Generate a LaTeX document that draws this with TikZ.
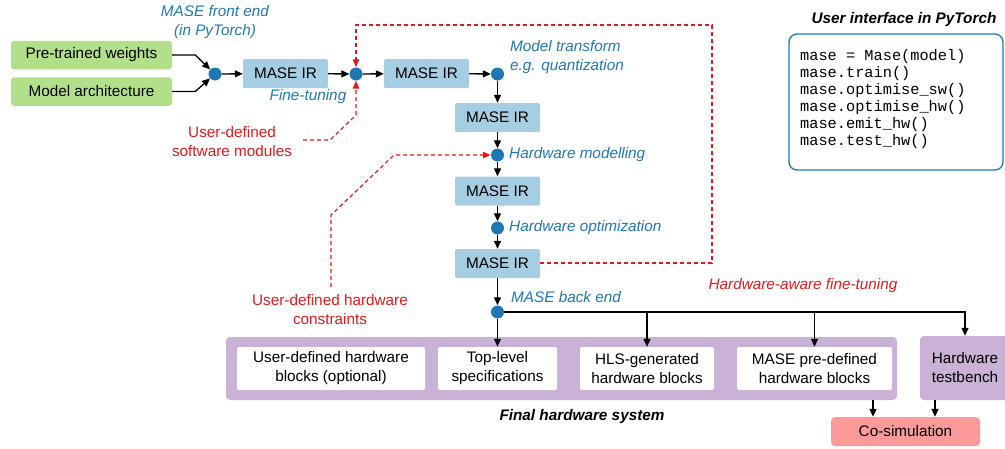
\documentclass[tikz,border=0pt]{standalone}
\usepackage{fontspec}
\setmainfont{Liberation Sans}
\setmonofont{Liberation Mono}
\usetikzlibrary{arrows.meta,calc}
\definecolor{grn}{HTML}{B2DF8A}
\definecolor{irblue}{HTML}{A6CEE3}
\definecolor{dblue}{HTML}{1F78B4}
\definecolor{redd}{HTML}{E31A1C}
\definecolor{purp}{HTML}{CAB2D6}
\definecolor{pinkc}{HTML}{FB9A99}
\tikzset{
  every node/.style={font=\fontsize{15.3}{19}\selectfont, inner sep=0pt},
  gbox/.style={fill=grn, rounded corners=3pt, minimum width=161pt, minimum height=28.5pt},
  irbox/.style={fill=irblue, rounded corners=1.5pt, minimum width=85pt, minimum height=29pt},
  jdot/.style={circle, fill=dblue, minimum size=13pt},
  blbl/.style={text=dblue, font=\fontsize{15.3}{19}\selectfont\itshape},
  rlbl/.style={text=redd, align=center},
  arr/.style={-{Triangle[length=8pt,width=7pt]}, line width=1.3pt},
  rdash/.style={draw=redd, dash pattern=on 4pt off 3pt, line width=1.2pt},
  rarr/.style={rdash, -{Triangle[length=8pt,width=6.5pt]}},
  wbox/.style={fill=white, rounded corners=2pt, minimum height=43pt, align=center},
  codeln/.style={anchor=base west, font=\fontsize{15.3}{17}\selectfont\ttfamily},
}
\begin{document}
\begin{tikzpicture}[x=1pt,y=-1pt]
\useasboundingbox (0,0) rectangle (1005,448);

% input boxes
\node[gbox] (g1) at (91.5,55) {Pre-trained weights};
\node[gbox] (g2) at (91.5,91.5) {Model architecture};

% dots
\node[jdot] (d1) at (215,74) {};
\node[jdot] (d2) at (356,74) {};
\node[jdot] (d3) at (497.5,74) {};
\node[jdot] (d4) at (497.5,155) {};
\node[jdot] (d5) at (497.5,228) {};
\node[jdot] (d6) at (497.5,312) {};

% IR boxes
\node[irbox] (ir1) at (285.5,73.5) {MASE IR};
\node[irbox] (ir2) at (426.5,73.5) {MASE IR};
\node[irbox] (ir3) at (497.5,117.5) {MASE IR};
\node[irbox] (ir4) at (497.5,191) {MASE IR};
\node[irbox] (ir5) at (497.5,263.5) {MASE IR};

% labels
\node[blbl, align=center] (lfe) at (215,22) {MASE front end\\(in PyTorch)};
\node[blbl] (lft) at (308,97) {Fine-tuning};
\node[blbl, align=left, anchor=west] (lmt) at (510,57.5) {Model transform\\e.g. quantization};
\node[blbl, anchor=west] (lhm) at (509,155) {Hardware modelling};
\node[blbl, anchor=west] (lho) at (509,228) {Hardware optimization};
\node[blbl, anchor=west] (lbe) at (511,297) {MASE back end};
\node[rlbl] (lsw) at (232,141.5) {User-defined\\software modules};
\node[rlbl] (lhc) at (330,309.5) {User-defined hardware\\constraints};
\node[text=redd, font=\fontsize{15.3}{19}\selectfont\itshape] (lhaf) at (803,286) {Hardware-aware fine-tuning};

% final hardware system
\node[fill=purp, rounded corners=4pt, minimum width=671pt, minimum height=63pt] (fhs) at (561.5,368.5) {};
\node[wbox, minimum width=188pt] (w1) at (331,368.5) {User-defined hardware\\blocks (optional)};
\node[wbox, minimum width=119pt] (w2) at (497.5,368.5) {Top-level\\specifications};
\node[wbox, minimum width=134pt] (w3) at (647,368.5) {HLS-generated\\hardware blocks};
\node[wbox, minimum width=155pt] (w4) at (814.5,368.5) {MASE pre-defined\\hardware blocks};
\node[fill=purp, rounded corners=4pt, minimum width=90pt, minimum height=64pt, align=center] (tb) at (965,368) {Hardware\\testbench};
\node[fill=pinkc, rounded corners=4pt, minimum width=149pt, minimum height=29pt] (cs) at (905.5,431.5) {Co-simulation};
\node[font=\fontsize{15.3}{19}\selectfont\bfseries\itshape] (lfhs) at (582,417) {Final hardware system};

% user interface
\node[font=\fontsize{15.3}{19}\selectfont\bfseries\itshape] (lui) at (904,20) {User interface in PyTorch};
\node[draw=dblue, line width=1.3pt, rounded corners=8pt, minimum width=214pt, minimum height=136pt] (code) at (896,102) {};
\node[codeln] (c1) at (800,60.5) {mase = Mase(model)};
\node[codeln] (c2) at (800,77.5) {mase.train()};
\node[codeln] (c3) at (800,94.5) {mase.optimise\_sw()};
\node[codeln] (c4) at (800,111.5) {mase.optimise\_hw()};
\node[codeln] (c5) at (800,128.5) {mase.emit\_hw()};
\node[codeln] (c6) at (800,145.5) {mase.test\_hw()};

% black connectors
\draw[arr] (g1.east) -- ++(23,0) -- (d1);
\draw[arr] (g2.east) -- ++(23,0) -- (d1);
\draw[arr] (d1) -- (ir1);
\draw[arr] (ir1) -- (d2);
\draw[arr] (d2) -- (ir2);
\draw[arr] (ir2) -- (d3);
\draw[arr] (d3) -- (ir3);
\draw[arr] (ir3) -- (d4);
\draw[arr] (d4) -- (ir4);
\draw[arr] (ir4) -- (d5);
\draw[arr] (d5) -- (ir5);
\draw[arr] (ir5) -- (d6);
\draw[arr] (d6) -- (w2.north);
\draw[arr] (d6.east) -| (tb.north);
\draw[arr] (w3.north |- d6) -- (w3.north);
\draw[arr] (w4.north |- d6) -- (w4.north);
\coordinate (cA) at (873,400);
\coordinate (cB) at (935,400);
\draw[arr] (cA) -- (cA |- cs.north);
\draw[arr] (cB) -- (cB |- cs.north);

% red dashed connectors
\coordinate (r1) at (712,263);
\coordinate (r2) at (712,25);
\coordinate (r3) at (356,25);
\draw[rarr] (ir5.east |- r1) -- (r1) -- (r2) -- (r3) -- (d2.north);
\coordinate (s1) at (303,140);
\coordinate (s2) at (330,140);
\coordinate (s3) at (356,115);
\draw[rarr] (s1) -- (s2) -- (s3) -- (d2.south);
\coordinate (h1) at (331,287);
\coordinate (h2) at (331,215);
\coordinate (h3) at (394,155);
\draw[rarr] (h1) -- (h2) -- (h3) -- (d4.west);
\end{tikzpicture}
\end{document}
